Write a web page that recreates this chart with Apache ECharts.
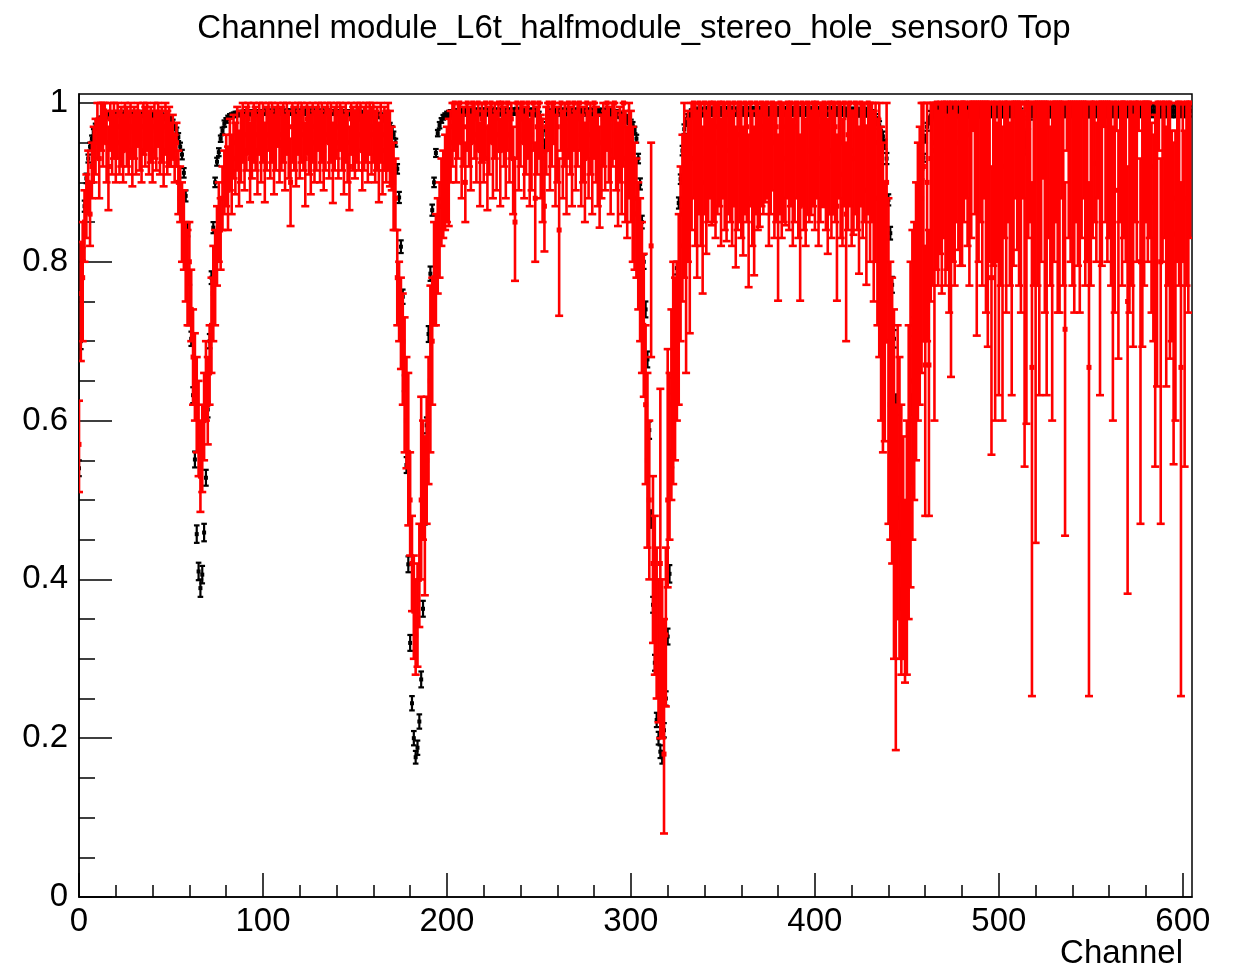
<!DOCTYPE html>
<html><head><meta charset="utf-8">
<script src="https://cdn.jsdelivr.net/npm/echarts@6/dist/echarts.min.js"></script>
<style>html,body{margin:0;padding:0;background:#fff}#c{width:1235px;height:970px}</style>
</head><body><div id="c"></div>
<script>
// Channel index = array index (0..604)
const titleText = 'Channel module_L6t_halfmodule_stereo_hole_sensor0 Top';
const xAxisTitle = 'Channel';
const xMajorTicks = [0,100,200,300,400,500,600];
const xMinorTicks = [20,40,60,80,120,140,160,180,220,240,260,280,320,340,360,380,420,440,460,480,520,540,560,580];
const yMajorTicks = [0,0.2,0.4,0.6,0.8,1];
const yMinorTicks = [0.05,0.1,0.15,0.25,0.3,0.35,0.45,0.5,0.55,0.65,0.7,0.75,0.85,0.9,0.95];

const blackVal = [
.54,.70,.81,.87,.905,.93,.945,.955,.963,.97,
.975,.978,.98,.982,.983,.984,.985,.985,.986,.986,
.986,.987,.987,.986,.987,.987,.986,.987,.986,.987,
.987,.986,.987,.987,.986,.986,.987,.986,.986,.985,
.985,.986,.985,.985,.984,.984,.983,.982,.981,.98,
.978,.975,.97,.965,.957,.945,.935,.912,.883,.84,
.78,.703,.632,.551,.457,.41,.389,.406,.459,.528,
.614,.70,.78,.843,.90,.926,.938,.955,.965,.974,
.978,.981,.983,.984,.985,.986,.986,.987,.987,.987,
.988,.987,.988,.988,.987,.988,.988,.987,.988,.988,
.988,.989,.988,.988,.989,.988,.988,.989,.988,.988,
.989,.988,.988,.989,.988,.989,.988,.988,.989,.988,
.988,.989,.988,.988,.989,.988,.988,.989,.988,.988,
.988,.988,.989,.988,.988,.988,.989,.988,.988,.988,
.988,.988,.987,.988,.988,.987,.988,.987,.988,.987,
.987,.987,.988,.987,.987,.986,.987,.986,.986,.986,
.986,.985,.985,.984,.984,.983,.981,.979,.976,.972,
.967,.96,.95,.917,.881,.819,.756,.647,.544,.419,
.32,.244,.2,.176,.188,.221,.274,.363,.48,.594,
.709,.785,.865,.90,.937,.962,.972,.978,.982,.984,
.985,.986,.987,.987,.988,.988,.988,.989,.988,.989,
.989,.988,.989,.989,.988,.989,.989,.988,.989,.989,
.989,.989,.988,.989,.989,.99,.989,.989,.988,.989,
.989,.99,.989,.989,.988,.989,.989,.989,.99,.989,
.989,.989,.988,.989,.989,.989,.988,.989,.988,.987,
.985,.975,.96,.945,.97,.984,.987,.988,.989,.989,
.989,.988,.989,.989,.988,.989,.989,.989,.988,.989,
.989,.988,.989,.989,.989,.988,.989,.988,.989,.989,
.988,.989,.989,.988,.989,.988,.988,.989,.988,.988,
.988,.987,.987,.986,.985,.984,.983,.981,.979,.977,
.975,.972,.966,.955,.93,.898,.85,.80,.74,.677,
.588,.476,.368,.295,.223,.2,.183,.176,.21,.25,
.328,.407,.552,.644,.72,.792,.874,.904,.94,.967,
.976,.982,.985,.987,.988,.988,.989,.989,.988,.989,
.989,.989,.99,.989,.989,.989,.99,.989,.989,.99,
.989,.989,.99,.989,.989,.99,.989,.989,.989,.99,
.989,.99,.989,.989,.99,.989,.989,.99,.989,.989,
.99,.989,.989,.99,.989,.989,.99,.989,.989,.99,
.989,.989,.99,.989,.989,.99,.989,.989,.99,.989,
.989,.99,.989,.989,.99,.989,.989,.99,.989,.989,
.99,.989,.989,.99,.989,.989,.99,.989,.989,.99,
.989,.989,.99,.989,.989,.99,.989,.989,.988,.989,
.989,.988,.989,.988,.989,.988,.988,.989,.988,.988,
.988,.986,.984,.981,.977,.972,.965,.958,.948,.93,
.878,.836,.771,.703,.62,.49,.447,.375,.349,.33,
.4,.47,.534,.62,.718,.78,.862,.888,.91,.931,
.955,.97,.978,.984,.987,.988,.989,.989,.99,.989,
.989,.99,.989,.99,.989,.989,.99,.989,.99,.989,
.99,.989,.989,.99,.989,.99,.989,.99,.989,.99,
.989,.99,.989,.99,.989,.99,.99,.989,.99,.989,
.99,.989,.99,.989,.99,.989,.99,.99,.989,.99,
.989,.99,.985,.97,.945,.955,.975,.986,.989,.99,
.989,.99,.989,.99,.99,.989,.99,.989,.99,.989,
.99,.989,.99,.99,.989,.99,.989,.99,.989,.99,
.99,.989,.99,.989,.99,.989,.99,.99,.989,.99,
.989,.99,.989,.99,.99,.989,.99,.989,.99,.989,
.99,.989,.99,.99,.989,.99,.989,.99,.989,.99,
.99,.989,.99,.989,.99,.989,.99,.99,.989,.99,
.989,.99,.989,.99,.99,.989,.99,.989,.99,.989,
.99,.989,.99,.99,.989,.99,.989,.99,.989,.99,
.99,.989,.99,.989,.99
];

const blackErr = [
.01,.01,.008,.007,.006,.005,.005,.004,.004,.004,
.003,.003,.003,.003,.003,.003,.003,.003,.003,.003,
.003,.003,.003,.003,.003,.003,.003,.003,.003,.003,
.003,.003,.003,.003,.003,.003,.003,.003,.003,.003,
.003,.003,.003,.003,.003,.003,.003,.003,.003,.003,
.003,.004,.004,.004,.005,.005,.006,.006,.007,.008,
.009,.009,.01,.01,.011,.011,.011,.011,.011,.01,
.01,.009,.008,.007,.006,.005,.005,.004,.004,.004,
.003,.003,.003,.003,.003,.003,.003,.003,.003,.003,
.003,.003,.003,.003,.003,.003,.003,.003,.003,.003,
.003,.003,.003,.003,.003,.003,.003,.003,.003,.003,
.003,.003,.003,.003,.003,.003,.003,.003,.003,.003,
.003,.003,.003,.003,.003,.003,.003,.003,.003,.003,
.003,.003,.003,.003,.003,.003,.003,.003,.003,.003,
.003,.003,.003,.003,.003,.003,.003,.003,.003,.003,
.003,.003,.003,.003,.003,.003,.003,.003,.003,.003,
.003,.003,.003,.003,.003,.003,.003,.003,.003,.003,
.004,.004,.005,.006,.007,.008,.009,.01,.01,.01,
.01,.009,.009,.008,.009,.009,.01,.01,.011,.01,
.01,.009,.007,.006,.005,.004,.004,.003,.003,.003,
.004,.004,.004,.004,.004,.004,.004,.004,.004,.004,
.004,.004,.004,.004,.004,.004,.004,.004,.004,.004,
.004,.004,.004,.004,.004,.004,.004,.004,.004,.004,
.004,.004,.004,.004,.004,.004,.004,.004,.004,.004,
.004,.004,.004,.004,.004,.004,.004,.004,.004,.004,
.004,.005,.006,.007,.006,.004,.004,.004,.004,.004,
.004,.004,.004,.004,.004,.004,.004,.004,.004,.004,
.004,.004,.004,.004,.004,.004,.004,.004,.004,.004,
.004,.004,.004,.004,.004,.004,.004,.004,.004,.004,
.004,.004,.004,.004,.004,.004,.004,.004,.004,.004,
.004,.004,.004,.005,.006,.007,.008,.009,.01,.01,
.011,.011,.01,.01,.009,.008,.008,.008,.009,.009,
.01,.011,.011,.01,.009,.008,.007,.006,.006,.006,
.005,.004,.004,.005,.005,.005,.005,.005,.005,.005,
.005,.005,.005,.005,.005,.005,.005,.005,.005,.005,
.005,.005,.005,.005,.005,.005,.005,.005,.005,.005,
.005,.005,.005,.005,.005,.005,.005,.005,.005,.005,
.005,.005,.005,.005,.005,.005,.005,.005,.005,.005,
.005,.005,.005,.005,.005,.005,.005,.005,.005,.005,
.005,.005,.005,.005,.005,.005,.005,.005,.005,.005,
.005,.005,.005,.005,.005,.005,.005,.005,.005,.005,
.005,.005,.005,.005,.005,.005,.005,.005,.005,.005,
.005,.005,.005,.005,.005,.005,.005,.005,.005,.005,
.005,.005,.005,.005,.005,.005,.005,.006,.006,.007,
.007,.008,.01,.011,.013,.014,.014,.014,.013,.013,
.014,.014,.014,.013,.012,.01,.008,.007,.006,.005,
.005,.005,.005,.006,.006,.007,.007,.007,.007,.007,
.007,.007,.007,.007,.007,.007,.007,.007,.007,.007,
.007,.007,.007,.007,.007,.007,.007,.007,.007,.007,
.007,.007,.007,.007,.007,.007,.007,.007,.007,.007,
.007,.007,.007,.007,.007,.007,.007,.007,.007,.007,
.007,.007,.008,.009,.01,.009,.008,.007,.007,.007,
.007,.007,.007,.007,.007,.007,.007,.007,.007,.007,
.007,.007,.007,.007,.007,.007,.007,.007,.007,.007,
.007,.007,.007,.007,.007,.007,.007,.007,.007,.007,
.007,.007,.007,.007,.007,.007,.007,.007,.007,.007,
.007,.007,.007,.007,.007,.007,.007,.007,.007,.007,
.007,.007,.007,.007,.007,.007,.007,.007,.007,.007,
.007,.007,.007,.007,.007,.007,.007,.007,.007,.007,
.007,.007,.007,.007,.007,.007,.007,.007,.007,.007,
.007,.007,.007,.007,.007
];

const redVal = [
.57,.76,.78,.85,.87,.90,.86,.92,.94,.95,
.97,.93,.98,.96,.99,.95,.92,.98,.95,.97,
.94,.97,.95,.96,.94,.975,.96,.95,.97,.94,
.965,.95,.98,.955,.94,.97,.96,.975,.95,.965,
.94,.97,.955,.98,.95,.965,.94,.97,.955,.96,
.95,.96,.93,.95,.90,.88,.86,.84,.80,.78,
.80,.74,.68,.66,.62,.58,.53,.56,.60,.64,
.62,.66,.72,.76,.78,.82,.85,.84,.88,.90,
.92,.89,.94,.91,.95,.93,.96,.92,.95,.97,
.94,.96,.98,.93,.95,.97,.96,.94,.98,.95,
.97,.93,.96,.98,.95,.97,.94,.96,.99,.95,
.96,.97,.94,.98,.95,.90,.97,.96,.94,.98,
.95,.97,.96,.93,.98,.96,.94,.97,.95,.96,
.98,.95,.97,.94,.96,.99,.95,.97,.93,.96,
.97,.95,.98,.96,.94,.97,.95,.92,.98,.96,
.95,.97,.96,.98,.94,.96,.97,.95,.98,.96,
.97,.95,.96,.93,.97,.94,.96,.95,.96,.95,
.93,.90,.88,.78,.76,.72,.70,.66,.60,.56,
.50,.42,.36,.33,.35,.40,.50,.52,.48,.55,
.60,.65,.70,.78,.80,.82,.84,.87,.88,.90,
.92,.93,.95,.97,1,.96,.98,1,.95,.97,
.90,1,.97,.95,1,.98,.96,1,.94,.98,
.96,1,.93,.97,1,.95,.98,.96,1,.94,
1,.97,.95,1,.96,.98,.93,.85,1,.96,
.98,1,.95,.97,1,.94,.96,1,.88,.97,
1,.95,.93,.87,.97,1,.96,.98,1,.95,
.97,.84,1,.96,.98,.94,1,.97,.95,1,
.96,.98,1,.95,.97,.93,1,.96,.98,.94,
1,.97,.95,.92,.95,.98,.96,1,.97,.94,
.98,1,.96,.92,.97,.95,1,.93,.90,.95,
.93,.90,.88,.86,.82,.80,.76,.72,.62,.55,
.50,.82,.42,.38,.34,.30,.42,.29,.18,.33,
.50,.55,.62,.64,.66,.70,.76,.82,.86,.88,
.84,.90,.88,.93,1,.95,.92,1,.96,.90,
1,.93,.97,1,.92,1,.95,.97,1,.91,
1,.96,.94,1,.97,.93,1,.90,.96,1,
.95,.90,1,.97,.88,1,.94,.89,1,.96,
.94,1,.97,.96,1,.91,.98,1,.95,.97,
.87,1,.95,.97,.93,1,.96,1,.92,.97,
1,.95,.87,1,.96,.92,1,.97,.94,1,
.96,1,.93,.97,.95,1,.96,.92,1,.94,
1,.97,.87,1,.95,.91,1,.86,.96,1,
.94,.93,1,.96,.90,1,.95,.97,.89,1,
.93,.96,.90,.95,.88,.92,.85,.80,.75,.90,
.70,.62,.61,.55,.40,.55,.50,.45,.42,.35,
.40,.55,.60,.65,.68,.75,.80,.85,.88,.92,
.67,.90,.67,.93,.95,.94,1,.90,1,.96,
1,1,.94,1,1,.96,1,1,.95,1,
1,1,1,.96,1,1,1,1,1,1,
1,1,1,1,1,1,.78,1,1,.93,
1,1,.92,1,1,1,.93,1,1,1,
1,1,1,.96,1,1,1,1,.667,1,
1,1,1,1,1,1,1,1,.90,1,
1,1,1,1,1,1,.715,1,1,1,
1,1,1,1,1,1,1,1,1,.667,
1,1,1,.924,1,1,1,1,1,1,
1,1,.90,1,1,.89,1,1,1,1,
.75,1,1,.95,1,1,1,.80,1,1,
1,1,1,.92,.875,.95,1,1,.80,1,
1,.90,1,1,.88,.835,.88,1,1,.667,
1,.88,1,1,1
];

const redLo = [
.51,.675,.70,.80,.83,.86,.82,.88,.90,.91,
.93,.88,.94,.92,.95,.90,.865,.94,.91,.93,
.90,.93,.91,.92,.90,.94,.92,.91,.93,.895,
.93,.91,.945,.915,.90,.935,.92,.94,.91,.925,
.90,.93,.915,.945,.91,.925,.895,.935,.91,.92,
.92,.93,.90,.92,.86,.85,.80,.79,.75,.72,
.72,.70,.62,.60,.56,.53,.485,.51,.55,.60,
.57,.62,.66,.70,.72,.77,.80,.79,.84,.86,
.87,.84,.89,.86,.905,.885,.915,.87,.90,.925,
.89,.915,.935,.875,.905,.925,.915,.885,.935,.90,
.925,.875,.915,.94,.905,.925,.885,.915,.945,.90,
.915,.925,.89,.935,.905,.845,.925,.915,.895,.935,
.905,.925,.915,.87,.935,.91,.885,.925,.90,.915,
.94,.90,.925,.89,.915,.95,.905,.925,.874,.915,
.93,.905,.94,.915,.885,.925,.90,.865,.935,.915,
.905,.925,.915,.94,.89,.915,.925,.90,.935,.91,
.925,.90,.915,.875,.925,.885,.915,.90,.915,.895,
.89,.84,.84,.72,.70,.665,.62,.56,.54,.468,
.43,.36,.30,.28,.29,.34,.40,.45,.38,.47,
.52,.56,.62,.72,.72,.76,.78,.82,.83,.84,
.85,.845,.90,.92,.94,.90,.93,.95,.88,.92,
.85,.94,.92,.89,.95,.93,.90,.94,.87,.925,
.90,.93,.865,.91,.95,.88,.93,.89,.94,.87,
.94,.92,.88,.94,.90,.93,.86,.776,.93,.89,
.92,.95,.88,.91,.93,.87,.89,.94,.80,.91,
.93,.88,.85,.813,.91,.94,.89,.92,.95,.87,
.90,.732,.94,.88,.92,.86,.93,.91,.87,.94,
.89,.92,.94,.87,.90,.85,.93,.88,.91,.86,
.93,.90,.87,.843,.88,.92,.89,.94,.90,.86,
.92,.93,.89,.845,.90,.86,.92,.85,.83,.88,
.85,.80,.79,.78,.74,.70,.66,.63,.52,.44,
.40,.68,.32,.28,.25,.22,.20,.20,.08,.24,
.39,.45,.50,.52,.55,.60,.62,.70,.75,.78,
.66,.80,.71,.84,.88,.82,.78,.86,.82,.76,
.86,.81,.85,.88,.846,.85,.83,.86,.87,.82,
.88,.84,.826,.86,.85,.82,.87,.793,.84,.85,
.83,.808,.86,.85,.768,.87,.82,.783,.86,.84,
.844,.87,.86,.875,.88,.82,.86,.89,.83,.85,
.751,.86,.83,.85,.846,.88,.84,.87,.82,.85,
.88,.83,.751,.87,.84,.82,.86,.85,.859,.87,
.84,.88,.82,.85,.869,.87,.84,.81,.86,.83,
.86,.85,.751,.88,.83,.82,.87,.70,.84,.87,
.82,.834,.86,.84,.785,.87,.83,.85,.771,.86,
.80,.85,.75,.80,.72,.68,.60,.56,.574,.70,
.47,.45,.42,.30,.185,.35,.30,.28,.30,.27,
.28,.35,.39,.45,.50,.55,.60,.62,.66,.70,
.48,.70,.48,.75,.77,.60,.79,.77,.81,.76,
.83,.77,.79,.736,.655,.80,.77,.85,.815,.795,
.795,.85,.88,.82,.77,.83,.965,.86,.707,.80,
.85,.77,.88,.736,.693,.80,.557,.795,.60,.80,
.632,.77,.60,.83,.736,.85,.77,.632,.795,.88,
.815,.77,.736,.88,.542,.596,.83,.85,.253,.77,
.446,.77,.632,.80,.905,.736,.632,.83,.77,.60,
.80,.85,.736,.736,.88,.77,.455,.94,.83,.80,
.77,.736,.85,.795,.736,.83,.88,.77,.80,.253,
.77,.83,.85,.80,.88,.632,.795,.97,.85,.80,
.83,.77,.60,.736,.965,.678,.85,.77,.83,.80,
.382,.736,.77,.693,.85,.80,.965,.47,.693,.77,
.85,.80,.83,.736,.70,.542,.643,.94,.47,.80,
.83,.643,.77,.678,.70,.545,.60,.80,.77,.253,
.80,.542,.77,.736,.83
];

const redHi = [
.625,.825,.85,.89,.91,.94,.90,.95,.97,.98,
1,.98,1,1,1,.99,.97,1,.99,1,
.985,1,.99,.995,.985,1,.995,.99,1,.985,
.995,.99,1,.99,.985,1,.995,1,.99,.995,
.98,1,.99,1,.99,.995,.985,1,.99,.995,
.975,.985,.96,.975,.94,.92,.90,.89,.85,.84,
.85,.79,.74,.71,.68,.65,.60,.62,.66,.70,
.68,.72,.78,.82,.84,.87,.90,.88,.92,.94,
.96,.945,.98,.96,.985,.975,.995,.965,.99,1,
.985,.995,1,.975,.99,1,.995,.985,1,.99,
1,.975,.995,1,.99,1,.985,.995,1,.99,
.995,1,.985,1,.99,.955,1,.995,.985,1,
.99,1,.995,.975,1,.995,.985,1,.99,.995,
1,.99,1,.985,.995,1,.99,1,.975,.995,
1,.99,1,.995,.985,1,.99,.97,1,.995,
.99,1,.995,1,.985,.995,1,.99,1,.995,
1,.99,.995,.975,1,.985,.995,.99,1,.99,
.97,.95,.93,.84,.80,.78,.76,.73,.68,.66,
.56,.48,.43,.40,.42,.47,.63,.60,.58,.63,
.68,.77,.78,.85,.86,.88,.90,.93,.94,.96,
.97,.98,.99,1,1,.99,1,1,.985,.995,
.95,1,.995,.985,1,1,.99,1,.975,1,
.99,1,.97,.995,1,.985,1,.99,1,.98,
1,.995,.985,1,.99,1,.97,.93,1,.99,
1,1,.985,.995,1,.98,.99,1,.95,.995,
1,.985,.98,.94,.995,1,.99,1,1,.985,
.995,.93,1,.99,1,.98,1,.995,.985,1,
.99,1,1,.985,.995,.975,1,.99,1,.98,
1,.995,.985,.97,.985,1,.99,1,.995,.98,
1,1,.99,.975,.995,.985,1,.99,.97,1,
.99,.97,.95,.93,.90,.88,.85,.81,.72,.66,
.60,.95,.53,.48,.44,.40,.64,.40,.35,.44,
.69,.66,.74,.80,.78,.80,.86,.92,.96,1,
.96,.99,.98,1,1,1,.99,1,1,.97,
1,.99,1,1,.98,1,1,1,1,.98,
1,1,.99,1,1,.99,1,.97,1,1,
1,.97,1,1,.96,1,.99,.97,1,1,
.99,1,1,1,1,.98,1,1,1,1,
.96,1,1,1,.99,1,1,1,.98,1,
1,1,.96,1,1,.98,1,1,.99,1,
1,1,.99,1,1,1,1,.98,1,.99,
1,1,.96,1,1,.98,1,.95,1,1,
.99,.99,1,1,.97,1,1,1,.97,1,
1,1,.99,1,.98,1,.97,.95,.90,1,
.88,.80,.78,.74,.62,.72,.68,.62,.58,.50,
.60,.72,.80,.84,.85,.90,.95,.97,1,1,
.82,1,.84,1,1,1,1,.99,1,1,
1,1,.985,1,1,.99,1,1,.985,1,
1,1,1,.99,1,1,1,1,1,1,
1,1,1,1,1,1,.92,1,1,.975,
1,1,.97,1,1,1,.975,1,1,1,
1,1,1,.99,1,1,1,1,.90,1,
1,1,1,1,1,1,1,1,.97,1,
1,1,1,1,1,1,.90,1,1,1,
1,1,1,1,1,1,1,1,1,.90,
1,1,1,.975,1,1,1,1,1,1,
1,1,.97,1,1,.965,1,1,1,1,
.92,1,1,.985,1,1,1,.93,1,1,
1,1,1,.975,.96,.985,1,1,.93,1,
1,.97,1,1,.965,.95,.965,1,1,.90,
1,.965,1,1,1
];

const FONT = '"Liberation Sans", Arial, Helvetica, sans-serif';
const nRed = Math.min(redVal.length, redLo.length, redHi.length);
const redData = [];
for (let i = 0; i < nRed; i++) redData.push([i, redVal[i], redLo[i], redHi[i]]);
const nBlack = Math.min(blackVal.length, blackErr.length);
const blackData = [];
for (let i = 0; i < nBlack; i++) blackData.push([i, blackVal[i], blackVal[i] - blackErr[i], Math.min(1.011, blackVal[i] + blackErr[i])]);

function makeRender(color, lw, capHalf, mk) {
  return function (params, api) {
    const x = api.value(0);
    const p = api.coord([x, api.value(1)]);
    const pl = api.coord([x, api.value(2)]);
    const ph = api.coord([x, api.value(3)]);
    const st = { stroke: color, lineWidth: lw };
    return {
      type: 'group',
      children: [
        { type: 'line', shape: { x1: pl[0], y1: pl[1], x2: ph[0], y2: ph[1] }, style: st },
        { type: 'line', shape: { x1: pl[0] - capHalf, y1: pl[1], x2: pl[0] + capHalf, y2: pl[1] }, style: st },
        { type: 'line', shape: { x1: ph[0] - capHalf, y1: ph[1], x2: ph[0] + capHalf, y2: ph[1] }, style: st },
        { type: 'rect', shape: { x: p[0] - mk / 2, y: p[1] - mk / 2, width: mk, height: mk }, style: { fill: color } }
      ]
    };
  };
}

const XMAX = 605, YMAX = 1.0113;
const chart = echarts.init(document.getElementById('c'), null, { renderer: 'canvas' });
const axisLbl = { fontFamily: FONT, fontSize: 33, color: '#000' };
chart.setOption({
  animation: false,
  backgroundColor: '#fff',
  grid: { left: 79, right: 43, top: 94, bottom: 73, show: true, borderColor: '#000', borderWidth: 1.5, backgroundColor: 'transparent' },
  xAxis: [
    { type: 'value', min: 0, max: XMAX, position: 'bottom',
      axisLine: { show: true, onZero: false, lineStyle: { color: '#000', width: 1.5 } },
      axisTick: { show: true, inside: true, length: 24, customValues: xMajorTicks, lineStyle: { color: '#000', width: 1.5 } },
      axisLabel: Object.assign({ margin: 8, customValues: xMajorTicks }, axisLbl),
      splitLine: { show: false } },
    { type: 'value', min: 0, max: XMAX, position: 'bottom', offset: 0,
      axisLine: { show: false, onZero: false },
      axisTick: { show: true, inside: true, length: 12, customValues: xMinorTicks, lineStyle: { color: '#000', width: 1.5 } },
      axisLabel: { show: false }, splitLine: { show: false } }
  ],
  yAxis: [
    { type: 'value', min: 0, max: YMAX, position: 'left',
      axisLine: { show: true, onZero: false, lineStyle: { color: '#000', width: 1.5 } },
      axisTick: { show: true, inside: true, length: 33, customValues: yMajorTicks, lineStyle: { color: '#000', width: 1.5 } },
      axisLabel: Object.assign({ margin: 11, customValues: yMajorTicks, formatter: v => (Math.round(v * 10) / 10).toString() }, axisLbl),
      splitLine: { show: false } },
    { type: 'value', min: 0, max: YMAX, position: 'left', offset: 0,
      axisLine: { show: false, onZero: false },
      axisTick: { show: true, inside: true, length: 16, customValues: yMinorTicks, lineStyle: { color: '#000', width: 1.5 } },
      axisLabel: { show: false }, splitLine: { show: false } }
  ],
  graphic: [
    { type: 'text', x: 634, y: 29, style: { text: titleText, font: '33px ' + FONT, fill: '#000', align: 'center', verticalAlign: 'middle' } },
    { type: 'text', x: 1183, y: 954, style: { text: xAxisTitle, font: '33px ' + FONT, fill: '#000', align: 'right', verticalAlign: 'middle' } }
  ],
  series: [
    { type: 'custom', name: 'black', xAxisIndex: 0, yAxisIndex: 0, clip: true,
      renderItem: makeRender('#000000', 2.2, 2.8, 4),
      encode: { x: 0, y: [1, 2, 3] }, data: blackData, z: 2 },
    { type: 'custom', name: 'red', xAxisIndex: 0, yAxisIndex: 0, clip: true,
      renderItem: makeRender('#ff0000', 2.6, 4, 5),
      encode: { x: 0, y: [1, 2, 3] }, data: redData, z: 3 }
  ]
});
</script>
</body></html>
